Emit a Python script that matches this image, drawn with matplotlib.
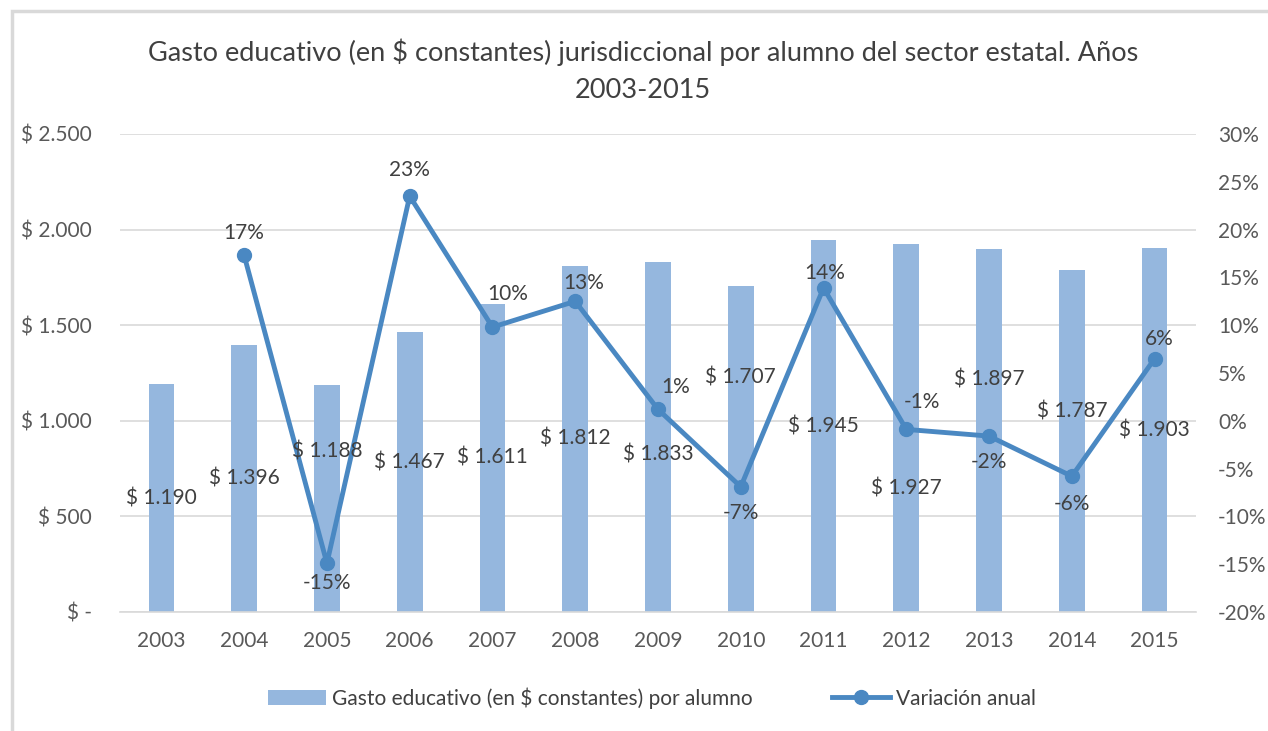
import matplotlib.pyplot as plt
import matplotlib.patches as mpatches
import matplotlib.ticker as mticker
import numpy as np

plt.rcParams['font.family'] = ['Lato', 'DejaVu Sans']

years = ['2003', '2004', '2005', '2006', '2007', '2008', '2009',
         '2010', '2011', '2012', '2013', '2014', '2015']
gasto = [1190, 1396, 1188, 1467, 1611, 1812, 1833, 1707, 1945, 1927, 1897, 1787, 1903]
gasto_labels = ['$ 1.190', '$ 1.396', '$ 1.188', '$ 1.467', '$ 1.611', '$ 1.812', '$ 1.833',
                '$ 1.707', '$ 1.945', '$ 1.927', '$ 1.897', '$ 1.787', '$ 1.903']
var_years = years[1:]
variacion = [17.3, -14.9, 23.5, 9.8, 12.5, 1.2, -6.9, 13.9, -0.9, -1.6, -5.8, 6.5]
var_labels = ['17%', '-15%', '23%', '10%', '13%', '1%', '-7%', '14%', '-1%', '-2%', '-6%', '6%']

# label placement tweaks (points), like the manual nudges in the original
bar_lab_dy = [0, 0, 34, 7, 0, 0, -13, 51, 0, -44, 37, 21, 0]
var_lab_off = [(0, 16), (0, -14), (0, 19), (11, 24), (6, 13), (13, 16), (0, -19),
               (1, 11), (11, 20), (0, -19), (0, -20), (3, 14)]

bar_col = '#95B7DE'
line_col = '#4A88C2'
txt_col = '#404040'
tick_col = '#595959'
fs = 15

fig = plt.figure(figsize=(12.68, 7.31), dpi=100)
ax1 = fig.add_axes([120/1268, 1-612/731, 1076/1268, 478/731])
ax2 = ax1.twinx()

x = np.arange(len(years))
ax1.bar(x, gasto, width=0.31, color=bar_col, zorder=2,
        label='Gasto educativo (en $ constantes) por alumno')
ax1.set_xlim(-0.5, len(years) - 0.5)
ax1.set_ylim(0, 2500)
ax1.set_yticks(np.arange(0, 2501, 500))
ax1.yaxis.set_major_formatter(mticker.FuncFormatter(
    lambda v, p: '$ -' if v == 0 else '$ {:,.0f}'.format(v).replace(',', '.')))
ax1.set_xticks(x)
ax1.set_xticklabels(years)
ax1.grid(axis='y', color='#D9D9D9', lw=1.2, zorder=0)
ax1.set_axisbelow(True)
for s in ['top', 'right', 'left']:
    ax1.spines[s].set_visible(False)
    ax2.spines[s].set_visible(False)
ax1.spines['bottom'].set_color('#D9D9D9')
ax1.spines['bottom'].set_linewidth(1.2)
ax2.spines['bottom'].set_visible(False)
ax1.tick_params(axis='both', length=0, labelsize=fs, colors=tick_col)
ax1.tick_params(axis='x', pad=14)
ax1.tick_params(axis='y', pad=20)

xv = np.arange(1, len(years))
ax2.plot(xv, variacion, '-o', color=line_col, lw=3.5, ms=10, zorder=3, label='Variación anual')
ax2.set_ylim(-20, 30)
ax2.set_yticks(np.arange(-20, 31, 5))
ax2.yaxis.set_major_formatter(mticker.FuncFormatter(lambda v, p: '{:.0f}%'.format(v)))
ax2.tick_params(axis='y', length=0, labelsize=fs, colors=tick_col, pad=16)

# bar labels drawn on ax2 so they sit above the line, as in the original
for i, v in enumerate(gasto):
    ax2.annotate(gasto_labels[i], (x[i], v / 2), xycoords=ax1.transData,
                 xytext=(0, bar_lab_dy[i]), textcoords='offset points',
                 ha='center', va='center', fontsize=fs, color=txt_col, zorder=5)
for i, v in enumerate(variacion):
    dx, dy = var_lab_off[i]
    ax2.annotate(var_labels[i], (xv[i], v), xytext=(dx, dy), textcoords='offset points',
                 ha='center', va='center', fontsize=fs, color=txt_col, zorder=5)

fig.suptitle('Gasto educativo (en $ constantes) jurisdiccional por alumno del sector estatal. Años\n2003-2015',
             x=643/1268, y=1-38/731, fontsize=19.5, color=txt_col, linespacing=1.6, va='top')

h1, l1 = ax1.get_legend_handles_labels()
h2, l2 = ax2.get_legend_handles_labels()
fig.legend(h1 + h2, l1 + l2, loc='center', bbox_to_anchor=(652/1268, 1-698/731), ncol=2,
           frameon=False, fontsize=fs, labelcolor=txt_col, handlelength=2.8,
           columnspacing=3.8, handletextpad=0.3)

fig.patches.append(mpatches.Rectangle((11.5/1268, -0.1), 1.2, 1.1 - 11.5/731,
                                      transform=fig.transFigure, fill=False,
                                      edgecolor='#D9D9D9', lw=2.5))

fig.savefig('out.png', dpi=100)
